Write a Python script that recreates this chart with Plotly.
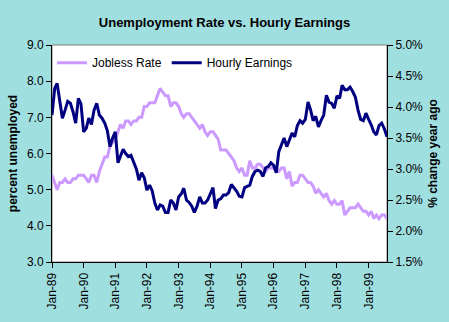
import pandas as pd
import plotly.graph_objects as go

# Monthly observations, Jan-1989 through Aug-1999
months = pd.date_range("1989-01-01", periods=128, freq="MS")

# Civilian unemployment rate, percent
jobless_rate = [
    5.4, 5.2, 5.0, 5.2, 5.2, 5.3, 5.2, 5.2, 5.3, 5.3, 5.4, 5.4,   # 1989
    5.4, 5.3, 5.2, 5.4, 5.4, 5.2, 5.5, 5.7, 5.9, 5.9, 6.2, 6.3,   # 1990
    6.4, 6.6, 6.8, 6.7, 6.9, 6.9, 6.8, 6.9, 6.9, 7.0, 7.0, 7.3,   # 1991
    7.3, 7.4, 7.4, 7.4, 7.6, 7.8, 7.7, 7.6, 7.6, 7.3, 7.4, 7.4,   # 1992
    7.3, 7.1, 7.0, 7.1, 7.1, 7.0, 6.9, 6.8, 6.7, 6.8, 6.6, 6.5,   # 1993
    6.6, 6.6, 6.5, 6.4, 6.1, 6.1, 6.1, 6.0, 5.9, 5.8, 5.6, 5.5,   # 1994
    5.6, 5.4, 5.4, 5.8, 5.6, 5.6, 5.7, 5.7, 5.6, 5.5, 5.6, 5.6,   # 1995
    5.6, 5.5, 5.5, 5.6, 5.6, 5.3, 5.5, 5.1, 5.2, 5.2, 5.4, 5.4,   # 1996
    5.3, 5.2, 5.2, 5.1, 4.9, 5.0, 4.9, 4.8, 4.9, 4.7, 4.6, 4.7,   # 1997
    4.6, 4.6, 4.7, 4.3, 4.4, 4.5, 4.5, 4.5, 4.6, 4.5, 4.4, 4.4,   # 1998
    4.3, 4.4, 4.2, 4.3, 4.2, 4.3, 4.3, 4.2,                       # 1999
]

# Average hourly earnings, % change from a year ago
hourly_earnings = [
    3.87, 4.30, 4.38, 4.10, 3.82, 3.95, 4.09, 4.06, 3.92, 3.74, 4.14, 4.05,  # 1989
    3.60, 3.66, 3.82, 3.72, 3.95, 4.06, 3.87, 3.82, 3.74, 3.62, 3.36, 3.50,  # 1990
    3.60, 3.10, 3.20, 3.32, 3.25, 3.20, 3.22, 3.12, 3.00, 2.82, 2.94, 2.86,  # 1991
    2.66, 2.74, 2.65, 2.45, 2.34, 2.42, 2.40, 2.30, 2.30, 2.50, 2.45, 2.34,  # 1992
    2.55, 2.60, 2.69, 2.50, 2.46, 2.40, 2.30, 2.40, 2.55, 2.45, 2.45, 2.50,  # 1993
    2.60, 2.70, 2.36, 2.50, 2.52, 2.58, 2.58, 2.62, 2.75, 2.70, 2.64, 2.56,  # 1994
    2.55, 2.70, 2.72, 2.74, 2.88, 2.96, 2.98, 2.96, 2.88, 3.02, 3.04, 3.10,  # 1995
    3.06, 2.94, 3.28, 3.39, 3.50, 3.36, 3.48, 3.58, 3.52, 3.70, 3.78, 3.74,  # 1996
    3.80, 4.08, 3.96, 3.78, 3.85, 3.68, 3.78, 3.87, 4.19, 4.08, 4.06, 3.98,  # 1997
    4.18, 4.14, 4.35, 4.28, 4.28, 4.32, 4.25, 4.16, 3.95, 3.80, 3.78, 3.90,  # 1998
    3.80, 3.71, 3.60, 3.55, 3.70, 3.74, 3.65, 3.52,                          # 1999
]

# X-axis labels, one per January
tick_dates = pd.date_range("1989-01-01", "1999-01-01", freq="YS")
tick_labels = [d.strftime("Jan-%y") for d in tick_dates]

BG = "#A0DFE0"
FONT = "Liberation Sans, Arial, sans-serif"

fig = go.Figure()
fig.add_trace(go.Scatter(
    x=months, y=jobless_rate, name="Jobless Rate", mode="lines",
    line=dict(color="#CC99FF", width=3), yaxis="y",
))
fig.add_trace(go.Scatter(
    x=months, y=hourly_earnings, name="Hourly Earnings", mode="lines",
    line=dict(color="#000080", width=3), yaxis="y2",
))

# grey frame around the plotting area
fig.add_shape(type="rect", xref="paper", yref="paper", x0=0, y0=0, x1=1, y1=1,
              line=dict(color="#808080", width=1), layer="below")

fig.update_layout(
    width=449, height=322,
    paper_bgcolor=BG, plot_bgcolor="white",
    margin=dict(l=52, r=59, t=45, b=60),
    font=dict(family=FONT, size=12, color="black"),
    title=dict(text="<b>Unemployment Rate vs. Hourly Earnings</b>",
               x=0.5, xanchor="center", y=1 - 22 / 322, yanchor="middle",
               font=dict(size=13, family=FONT, color="black")),
    showlegend=True,
    legend=dict(orientation="h", x=0.0, y=0.985, xanchor="left", yanchor="top",
                bgcolor="rgba(0,0,0,0)", font=dict(size=12, family=FONT),
                itemwidth=30, tracegroupgap=0),
    xaxis=dict(
        range=[months[0], months[-1]], tickvals=tick_dates, ticktext=tick_labels,
        tickangle=-90, showgrid=False, zeroline=False,
        showline=True, linecolor="black", linewidth=1,
        ticks="outside", ticklen=5, tickcolor="black",
        tickfont=dict(size=12),
    ),
    yaxis=dict(
        range=[3, 9], dtick=1, tickformat=".1f", showgrid=False, zeroline=False,
        showline=True, linecolor="black", linewidth=1,
        ticks="outside", ticklen=5, tickcolor="black",
        tickfont=dict(size=12),
        title=dict(text="<b>percent unemployed</b>", font=dict(size=12), standoff=6),
    ),
    yaxis2=dict(
        range=[1.5, 5.0], dtick=0.5, tickformat=".1f", ticksuffix="%",
        overlaying="y", side="right", showgrid=False, zeroline=False,
        showline=True, linecolor="black", linewidth=1,
        ticks="outside", ticklen=5, tickcolor="black",
        tickfont=dict(size=12),
        title=dict(text="<b>% change year ago</b>", font=dict(size=12), standoff=6),
    ),
)

fig.write_html("out.html")
